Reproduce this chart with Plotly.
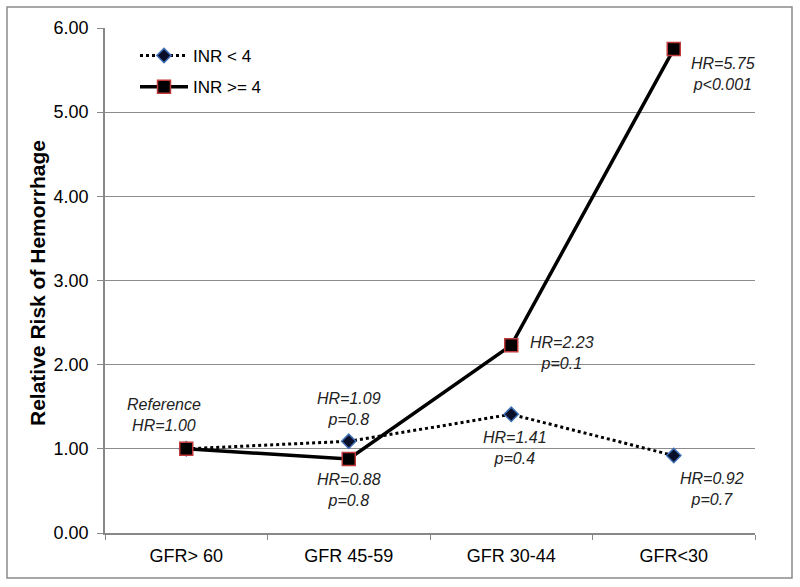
import plotly.graph_objects as go

categories = ["GFR> 60", "GFR 45-59", "GFR 30-44", "GFR<30"]
inr_lt4 = [1.00, 1.09, 1.41, 0.92]
inr_ge4 = [1.00, 0.88, 2.23, 5.75]
y_ticks = [0, 1, 2, 3, 4, 5, 6]
y_tick_labels = ["0.00", "1.00", "2.00", "3.00", "4.00", "5.00", "6.00"]

# annotation texts: (category index, y value, text, xshift, yshift)
labels = [
    (0, 1.00, "Reference<br>HR=1.00", -22, 34),
    (1, 1.09, "HR=1.09<br>p=0.8", 0, 32),
    (1, 0.88, "HR=0.88<br>p=0.8", 0, -31),
    (2, 2.23, "HR=2.23<br>p=0.1", 51, -8),
    (2, 1.41, "HR=1.41<br>p=0.4", 4, -34),
    (3, 0.92, "HR=0.92<br>p=0.7", 38, -33),
    (3, 5.75, "HR=5.75<br>p<0.001", 49, -25),
]

L, R, T, B = 105, 45, 28, 54
W, H = 800, 587
pw, ph = W - L - R, H - T - B
FONT = "Liberation Sans, Arial"

fig = go.Figure()
fig.add_trace(go.Scatter(
    x=categories, y=inr_lt4, name="INR < 4", mode="lines+markers",
    legendgroup="a",
    line=dict(color="black", width=3, dash="dot"),
    marker=dict(symbol="diamond", size=11, color="#0a0f2a",
                line=dict(color="#3f6fb5", width=1.5)),
))
fig.add_trace(go.Scatter(
    x=categories, y=inr_ge4, name="INR >= 4", mode="lines+markers",
    legendgroup="b",
    line=dict(color="black", width=3.5),
    marker=dict(symbol="square", size=13, color="black",
                line=dict(color="#c0393b", width=1.5)),
))

for ci, yv, txt, xs, ys in labels:
    fig.add_annotation(
        x=categories[ci], y=yv, text=txt, showarrow=False,
        xshift=xs, yshift=ys,
        font=dict(family=FONT, size=16, color="#222", style="italic"),
        align="center",
    )

fig.add_annotation(
    xref="paper", yref="paper", x=(37 - L) / pw, y=(H - B - 283) / ph,
    xanchor="center", yanchor="middle",
    text="<b>Relative Risk of Hemorrhage</b>", textangle=-90, showarrow=False,
    font=dict(family=FONT, size=21, color="black"),
)

fig.add_shape(
    type="rect", xref="paper", yref="paper",
    x0=(7 - L) / pw, x1=(792 - L) / pw,
    y0=(H - B - 578) / ph, y1=(H - B - 7) / ph,
    line=dict(color="#8a8a8a", width=1.5), fillcolor="rgba(0,0,0,0)", layer="below",
)

fig.update_layout(
    width=W, height=H,
    margin=dict(l=L, r=R, t=T, b=B),
    paper_bgcolor="white", plot_bgcolor="white",
    font=dict(family=FONT, color="black"),
    showlegend=True,
    hovermode=False,
    legend=dict(
        x=(135 - L) / pw, y=(H - B - 38) / ph, xanchor="left", yanchor="top",
        font=dict(size=17, color="black"), bgcolor="rgba(0,0,0,0)",
        tracegroupgap=6, itemwidth=48,
    ),
    xaxis=dict(
        type="category", range=[-0.5, 3.5], tickson="boundaries",
        ticks="outside", ticklen=5, tickcolor="#888", showline=True,
        linecolor="#888", linewidth=1.5, showgrid=False,
        tickfont=dict(size=18, color="black"), ticklabelstandoff=6,
    ),
    yaxis=dict(
        range=[0, 6], tickvals=y_ticks, ticktext=y_tick_labels,
        ticks="outside", ticklen=6, tickcolor="#888", showline=True,
        linecolor="#888", linewidth=1.5, showgrid=True, gridcolor="#8c8c8c",
        gridwidth=1, zeroline=False, tickfont=dict(size=18, color="black"),
        ticklabelstandoff=5,
    ),
)

fig.write_html("out.html", config={"displayModeBar": False},
               post_script="document.body.style.margin='0';")
